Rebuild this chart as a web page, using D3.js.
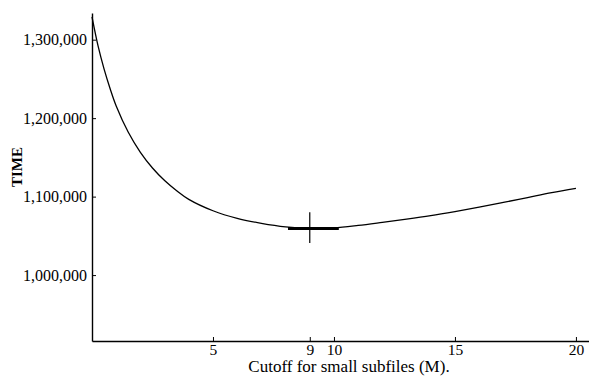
<!DOCTYPE html>
<html>
<head>
<meta charset="utf-8">
<script src="https://cdn.jsdelivr.net/npm/d3@7/dist/d3.min.js"></script>
<style>
  html, body { margin: 0; padding: 0; background: #fff; }
  svg { display: block; }
  text { font-family: "Liberation Serif", "DejaVu Serif", serif; fill: #000; }
</style>
</head>
<body>
<svg id="chart" width="589" height="377"></svg>
<script>
// Cutoff M for small subfiles
const cutoffs = [0, 0.25, 0.5, 0.75, 1, 1.5, 2, 2.5, 3, 3.5, 4, 5, 6, 7, 8, 9, 10, 11, 12, 13, 14, 15, 16, 17, 18, 19, 20];
// Running time
const times = [1329000, 1292000, 1262500, 1237500, 1215500, 1182000, 1156500, 1136500, 1120500, 1107500, 1096500,
               1082000, 1072300, 1066000, 1061500, 1059500, 1060200, 1063300, 1067200, 1071300, 1075800,
               1081000, 1086600, 1092600, 1098800, 1105000, 1110600];
const xTicks = [5, 9, 10, 15, 20];
const yTicks = [1000000, 1100000, 1200000, 1300000];
const yTickLabels = ["1,000,000", "1,100,000", "1,200,000", "1,300,000"];
const optimumM = 9;
const optimumTime = 1059500;
const optimumRange = [8.1, 10.2];
const optimumSpread = [1041000, 1080000];
const xTitle = "Cutoff for small subfiles (M).";
const yTitle = "TIME";

const svg = d3.select("#chart");
const x = d3.scaleLinear().domain([0, 20.54]).range([92, 589]);
const y = d3.scaleLinear().domain([916000, 1334000]).range([341, 13]);

// axes
const xAxis = d3.axisBottom(x).tickValues(xTicks).tickSize(-4).tickSizeOuter(0).tickPadding(3).tickFormat(d3.format("d"));
const gx = svg.append("g").attr("transform", `translate(0,${y.range()[0]})`).call(xAxis);
gx.selectAll("text").attr("font-size", 15.5).attr("font-family", "Liberation Serif").attr("fill", "#000");

const yAxis = d3.axisLeft(y).tickValues(yTicks).tickSize(-4).tickSizeOuter(0).tickPadding(5)
  .tickFormat((d, i) => yTickLabels[i]);
const gy = svg.append("g").attr("transform", `translate(${x.range()[0]},0)`).call(yAxis);
gy.selectAll("text").attr("font-size", 16).attr("font-family", "Liberation Serif").attr("fill", "#000");

svg.selectAll(".domain").attr("stroke", "#000").attr("stroke-width", 1.4);
svg.selectAll(".tick line").attr("stroke", "#000").attr("stroke-width", 1);

// curve
const line = d3.line().x((d, i) => x(cutoffs[i])).y(d => y(d)).curve(d3.curveCatmullRom.alpha(0.5));
svg.append("path").datum(times).attr("d", line)
  .attr("fill", "none").attr("stroke", "#000").attr("stroke-width", 1.3);

// optimum marker
svg.append("line")
  .attr("x1", x(optimumRange[0])).attr("x2", x(optimumRange[1]))
  .attr("y1", y(optimumTime)).attr("y2", y(optimumTime))
  .attr("stroke", "#000").attr("stroke-width", 3);
svg.append("line")
  .attr("x1", x(optimumM)).attr("x2", x(optimumM))
  .attr("y1", y(optimumSpread[0])).attr("y2", y(optimumSpread[1]))
  .attr("stroke", "#000").attr("stroke-width", 1.2);

// titles
svg.append("text").attr("x", 349).attr("y", 372).attr("text-anchor", "middle")
  .attr("font-size", 17).text(xTitle);
svg.append("text").attr("transform", "translate(22,167) rotate(-90)").attr("text-anchor", "middle")
  .attr("font-size", 15).attr("font-weight", "bold").text(yTitle);
</script>
</body>
</html>
